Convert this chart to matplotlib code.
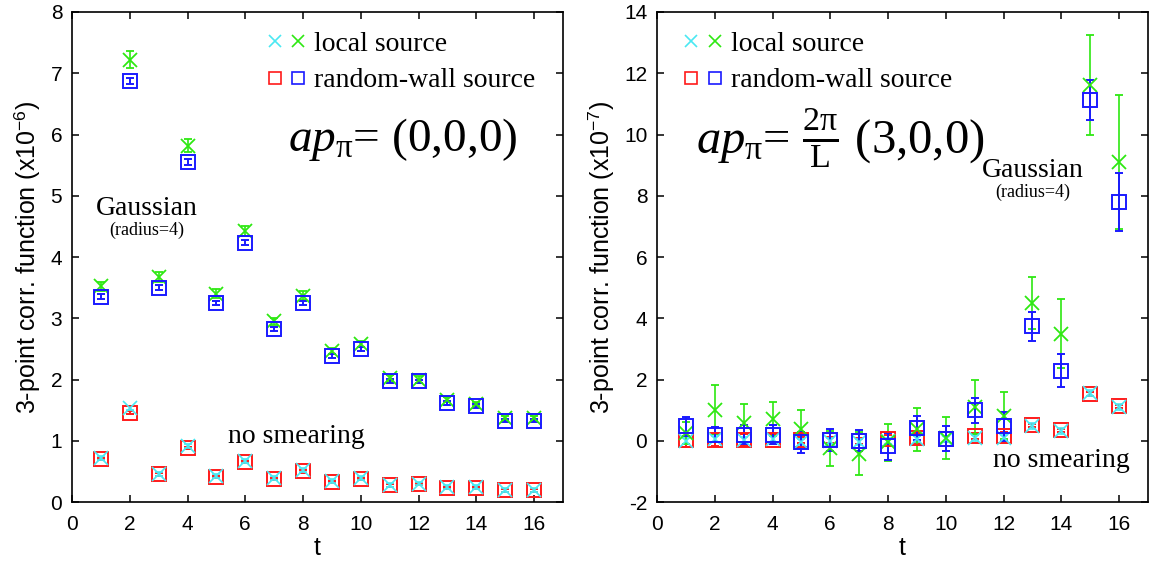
import matplotlib
matplotlib.use('Agg')
import matplotlib.pyplot as plt
from matplotlib.legend_handler import HandlerTuple
from matplotlib.lines import Line2D

plt.rcParams['mathtext.fontset'] = 'custom'
plt.rcParams['mathtext.rm'] = 'Liberation Serif'
plt.rcParams['mathtext.it'] = 'Liberation Serif:italic'
plt.rcParams['mathtext.sf'] = 'Liberation Sans'
plt.rcParams['font.family'] = 'Liberation Sans'
plt.rcParams['axes.unicode_minus'] = False

t = list(range(1, 17))

# left panel: ap_pi = (0,0,0), units 1e-6
left_rw_gauss = [3.35, 6.88, 3.50, 5.55, 3.25, 4.23, 2.83, 3.25, 2.38, 2.50, 1.98, 1.97, 1.62, 1.57, 1.33, 1.33]
left_rw_gauss_err = [0.04, 0.05, 0.04, 0.05, 0.04, 0.04, 0.03, 0.04, 0.03, 0.03, 0.03, 0.03, 0.03, 0.03, 0.03, 0.03]
left_loc_gauss = [3.52, 7.22, 3.67, 5.82, 3.40, 4.43, 2.95, 3.37, 2.47, 2.58, 2.03, 2.00, 1.67, 1.60, 1.37, 1.37]
left_loc_gauss_err = [0.07, 0.14, 0.08, 0.11, 0.07, 0.08, 0.06, 0.07, 0.05, 0.05, 0.05, 0.05, 0.04, 0.04, 0.04, 0.04]
left_rw_none = [0.70, 1.46, 0.45, 0.88, 0.41, 0.65, 0.38, 0.50, 0.33, 0.38, 0.27, 0.29, 0.23, 0.23, 0.19, 0.19]
left_rw_none_err = [0.02] * 16
left_loc_none = [0.72, 1.54, 0.46, 0.92, 0.42, 0.67, 0.39, 0.52, 0.34, 0.39, 0.28, 0.30, 0.24, 0.24, 0.20, 0.20]
left_loc_none_err = [0.03] * 16

# right panel: ap_pi = 2pi/L (3,0,0), units 1e-7
right_rw_gauss = [0.47, 0.20, 0.20, 0.20, -0.05, 0.03, 0.00, -0.18, 0.41, 0.07, 0.99, 0.47, 3.74, 2.29, 11.12, 7.80]
right_rw_gauss_err = [0.30, 0.25, 0.30, 0.30, 0.35, 0.35, 0.35, 0.45, 0.40, 0.40, 0.42, 0.47, 0.47, 0.53, 0.65, 0.95]
right_loc_gauss = [0.25, 1.01, 0.58, 0.71, 0.38, -0.24, -0.42, -0.05, 0.38, 0.09, 1.10, 0.82, 4.50, 3.50, 11.63, 9.10]
right_loc_gauss_err = [0.35, 0.80, 0.63, 0.57, 0.63, 0.57, 0.70, 0.60, 0.70, 0.67, 0.88, 0.76, 0.84, 1.14, 1.63, 2.20]
right_rw_none = [0.03, 0.03, 0.03, 0.03, 0.03, 0.03, 0.00, 0.05, 0.09, 0.07, 0.17, 0.14, 0.50, 0.34, 1.52, 1.12]
right_rw_none_err = [0.22, 0.2, 0.2, 0.15, 0.1, 0.1, 0.1, 0.15, 0.15, 0.1, 0.1, 0.15, 0.06, 0.06, 0.06, 0.06]
right_loc_none = [0.00, 0.05, 0.02, 0.05, -0.05, 0.00, -0.05, 0.00, 0.05, 0.05, 0.10, 0.10, 0.48, 0.32, 1.55, 1.10]
right_loc_none_err = [0.1] * 16

CYAN = '#4ae8f2'
GREEN = '#2ee812'
RED = '#ff1a1a'
BLUE = '#1a1aff'
SERIF = 'Liberation Serif'

fig = plt.figure(figsize=(11.52, 5.63), dpi=100)
ax1 = fig.add_axes([0.0625, 0.1083, 0.4262, 0.8704])
ax2 = fig.add_axes([0.5703, 0.1083, 0.4262, 0.8704])


def draw(ax, rw_none, rw_none_err, loc_none, loc_none_err,
         rw_g, rw_g_err, loc_g, loc_g_err):
    ax.errorbar(t, rw_none, yerr=rw_none_err, fmt='s', ms=10, mfc='none',
                mec=RED, mew=1.4, ecolor=RED, elinewidth=1.4, capsize=3)
    ax.errorbar(t, loc_none, yerr=loc_none_err, fmt='x', ms=10,
                mec=CYAN, mew=1.2, ecolor=CYAN, elinewidth=1.0, capsize=3)
    ax.errorbar(t, loc_g, yerr=loc_g_err, fmt='x', ms=10,
                mec=GREEN, mew=1.3, ecolor=GREEN, elinewidth=1.2, capsize=3)
    ax.errorbar(t, rw_g, yerr=rw_g_err, fmt='s', ms=10, mfc='none',
                mec=BLUE, mew=1.4, ecolor=BLUE, elinewidth=1.4, capsize=3)

    ax.set_xlim(0, 17)
    ax.set_xticks(range(0, 17, 2))
    ax.set_xlabel('t', fontsize=18, labelpad=2)
    ax.tick_params(direction='in', top=True, right=True, length=5,
                   width=1.1, labelsize=15, pad=9)
    for s in ax.spines.values():
        s.set_linewidth(1.2)

    h1 = (Line2D([], [], ls='none', marker='x', ms=9, mec=CYAN, mew=1.2),
          Line2D([], [], ls='none', marker='x', ms=9, mec=GREEN, mew=1.2))
    h2 = (Line2D([], [], ls='none', marker='s', ms=9, mfc='none', mec=RED, mew=1.2),
          Line2D([], [], ls='none', marker='s', ms=9, mfc='none', mec=BLUE, mew=1.2))
    return [h1, h2]


handles = draw(ax1, left_rw_none, left_rw_none_err, left_loc_none, left_loc_none_err,
               left_rw_gauss, left_rw_gauss_err, left_loc_gauss, left_loc_gauss_err)
ax1.set_ylim(0, 8)
ax1.set_yticks(range(0, 9))
ax1.tick_params(axis='y', pad=7)
ax1.set_ylabel('3-point corr. function (x10$^{\\mathsf{-6}}$)', fontsize=18, labelpad=6)

draw(ax2, right_rw_none, right_rw_none_err, right_loc_none, right_loc_none_err,
     right_rw_gauss, right_rw_gauss_err, right_loc_gauss, right_loc_gauss_err)
ax2.set_ylim(-2, 14)
ax2.set_yticks(range(-2, 15, 2))
ax2.tick_params(axis='y', pad=7)
ax2.set_ylabel('3-point corr. function (x10$^{\\mathsf{-7}}$)', fontsize=18, labelpad=6)

labels = ['local source', 'random-wall source']
for ax, loc in ((ax1, (0.355, 1.0)), (ax2, (0.012, 1.0))):
    ax.legend(handles, labels, loc='upper left', bbox_to_anchor=loc, frameon=False,
              handler_map={tuple: HandlerTuple(ndivide=None, pad=0.2)},
              handlelength=1.5, handletextpad=0.25, labelspacing=0.4,
              borderaxespad=0.3, prop={'family': SERIF, 'size': 20})

ax1.text(0.44, 0.74, '$ap_{\\mathrm{\\pi}}$= (0,0,0)', transform=ax1.transAxes,
         family=SERIF, fontsize=34, va='center')
ax1.text(0.153, 0.6, 'Gaussian', transform=ax1.transAxes, family=SERIF,
         fontsize=20, ha='center', va='center')
ax1.text(0.153, 0.555, '(radius=4)', transform=ax1.transAxes, family=SERIF,
         fontsize=13, ha='center', va='center')
ax1.text(0.457, 0.133, 'no smearing', transform=ax1.transAxes, family=SERIF,
         fontsize=20, ha='center', va='center')

ax2.text(0.08, 0.742, '$ap_{\\mathrm{\\pi}}$= $\\frac{\\mathrm{2\\pi}}{\\mathrm{L}}$ (3,0,0)',
         transform=ax2.transAxes, family=SERIF, fontsize=35, va='center')
ax2.text(0.765, 0.677, 'Gaussian', transform=ax2.transAxes, family=SERIF,
         fontsize=20, ha='center', va='center')
ax2.text(0.765, 0.632, '(radius=4)', transform=ax2.transAxes, family=SERIF,
         fontsize=13, ha='center', va='center')
ax2.text(0.963, 0.084, 'no smearing', transform=ax2.transAxes, family=SERIF,
         fontsize=20, ha='right', va='center')

fig.savefig('out.png', dpi=100)
